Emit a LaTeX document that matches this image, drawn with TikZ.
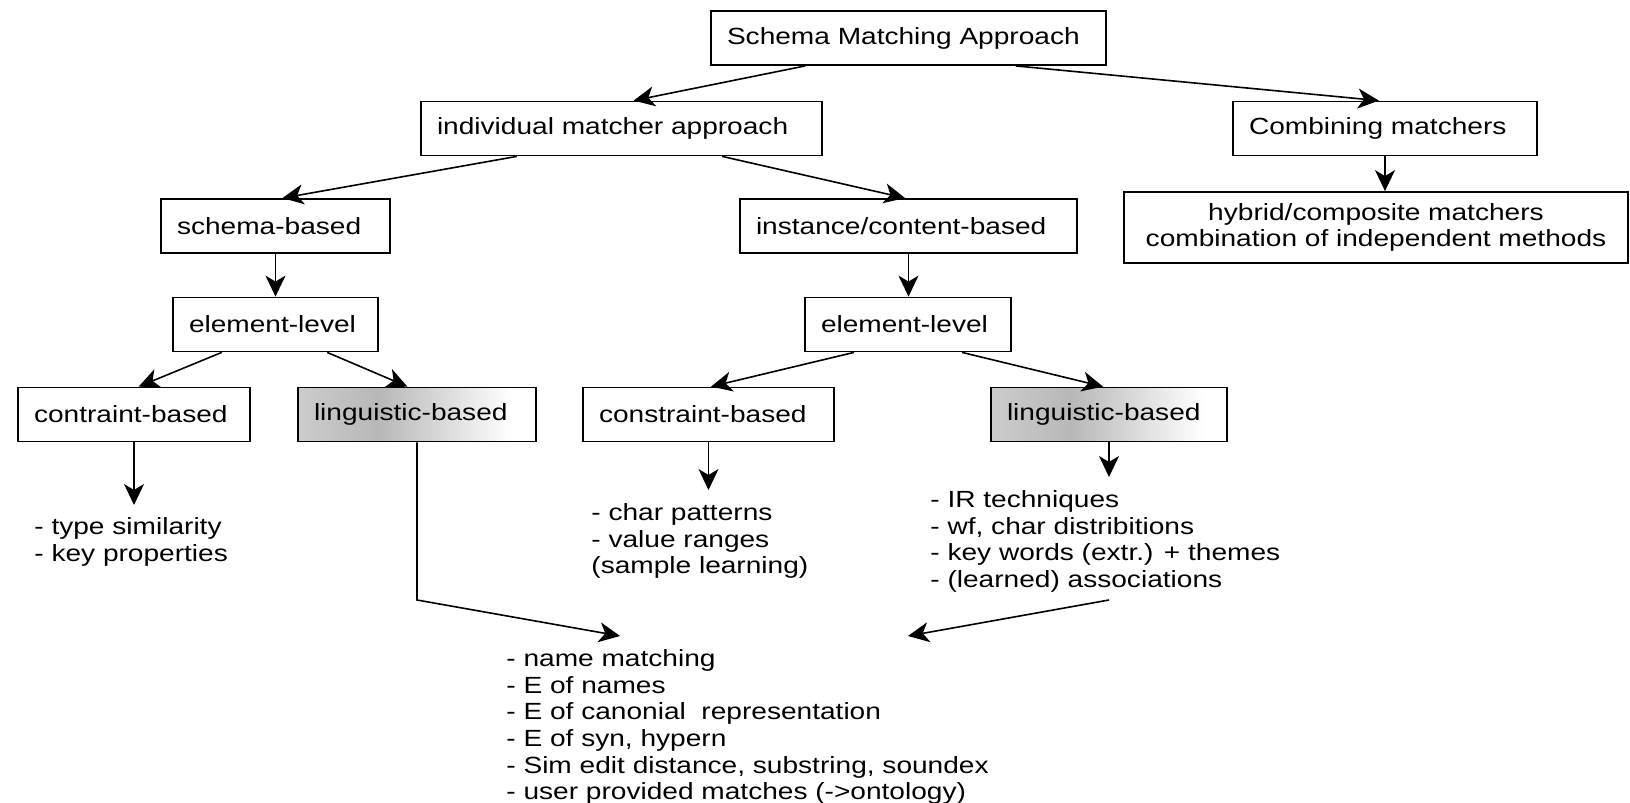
\documentclass[tikz,border=0pt]{standalone}
\usepackage{fontspec}
\setmainfont{Liberation Sans}[FakeStretch=1.2]
\usetikzlibrary{arrows.meta}
\usetikzlibrary{calc}
\pgfdeclarehorizontalshading{lingshade}{100bp}{color(0bp)=(black!20); color(25bp)=(black!20); color(42bp)=(black!28); color(70bp)=(white); color(100bp)=(white)}

\begin{document}
\begin{tikzpicture}[x=0.5pt,y=-0.5pt,>={Stealth[length=10.5pt,width=10pt,inset=3pt]},
		font=\fontsize{11.7}{13.35}\selectfont,
		box/.style={draw,line width=0.9pt,inner xsep=8pt,inner ysep=2pt,minimum height=27pt,text width=#1,align=left},
		shadebox/.style={box=#1,shade,shading=lingshade},
		list/.style={inner sep=0pt,align=left,anchor=north west},
		arr/.style={->,line width=0.8pt}]
		\useasboundingbox (0,0) rectangle (1630,803);
		
		% Top levels
		\node[box=181.5pt] (root) at (908.5,38) {Schema Matching Approach};
		\node[box=184.5pt] (indiv) at (621.5,128.5) {individual matcher approach};
		\node[box=136pt] (comb) at (1385,128.5) {Combining matchers};
		\node[draw,line width=0.9pt,minimum width=252pt,minimum height=35.5pt,align=center] (hybrid) at (1376,227.5) {hybrid/composite matchers\\combination of independent methods};
		\node[box=98.5pt] (schema) at (275.5,226) {schema-based};
		\node[box=152.5pt] (inst) at (908.5,226) {instance/content-based};
		\node[box=86.5pt] (elemL) at (275.5,324.5) {element-level};
		\node[box=87pt] (elemR) at (908,324.5) {element-level};
		
		% Matcher kinds
		\node[box=100pt] (contraint) at (134,414.5) {contraint-based};
		\node[shadebox=103pt] (lingL) at (417,414.5) {linguistic-based};
		\node[box=109.5pt] (constraint) at (708.5,414.5) {constraint-based};
		\node[shadebox=102pt] (lingR) at (1109,414.5) {linguistic-based};
		
		% Techniques
		\node[list] (typesim) at (34,517) {- type similarity\\- key properties};
		\node[list] (charpat) at (591,503) {- char patterns\\- value ranges\\(sample learning)};
		\node[list] (irtech) at (930,490) {- IR techniques\\- wf, char distribitions\\- key words (extr.) + themes\\- (learned) associations};
		\node[list] (names) at (506,649) {- name matching\\- E of names\\- E of canonial~~representation\\- E of syn, hypern\\- Sim edit distance, substring, soundex\\- user provided matches (->ontology)};
		
		% Tree arrows
		\draw[arr] ($(root.south west)!.24!(root.south east)$) -- ($(indiv.north west)!.53!(indiv.north east)$);
		\draw[arr] ($(root.south west)!.77!(root.south east)$) -- ($(comb.north west)!.48!(comb.north east)$);
		\draw[arr] (comb) -- (comb |- hybrid.north);
		\draw[arr] ($(indiv.south west)!.24!(indiv.south east)$) -- ($(schema.north west)!.53!(schema.north east)$);
		\draw[arr] ($(indiv.south west)!.75!(indiv.south east)$) -- ($(inst.north west)!.49!(inst.north east)$);
		\draw[arr] (schema) -- (elemL);
		\draw[arr] (inst) -- (inst |- elemR.north);
		\draw[arr] ($(elemL.south west)!.24!(elemL.south east)$) -- ($(contraint.north west)!.52!(contraint.north east)$);
		\draw[arr] ($(elemL.south west)!.75!(elemL.south east)$) -- ($(lingL.north west)!.46!(lingL.north east)$);
		\draw[arr] ($(elemR.south west)!.24!(elemR.south east)$) -- ($(constraint.north west)!.51!(constraint.north east)$);
		\draw[arr] ($(elemR.south west)!.76!(elemR.south east)$) -- ($(lingR.north west)!.475!(lingR.north east)$);
		
		% To the technique lists
		\draw[arr,shorten >=6pt] (contraint) -- (contraint |- typesim.north);
		\draw[arr,shorten >=6.5pt] (constraint) -- (constraint |- charpat.north);
		\draw[arr,shorten >=6.5pt] (lingR) -- (lingR |- irtech.north);
		\draw[arr] (lingL) -- (lingL |- 0,600) -- ($(names.north west)+(114,-13)$);
		\draw[arr] (lingR |- 0,600) -- ($(names.north west)+(402,-13)$);
	\end{tikzpicture}
\end{document}
